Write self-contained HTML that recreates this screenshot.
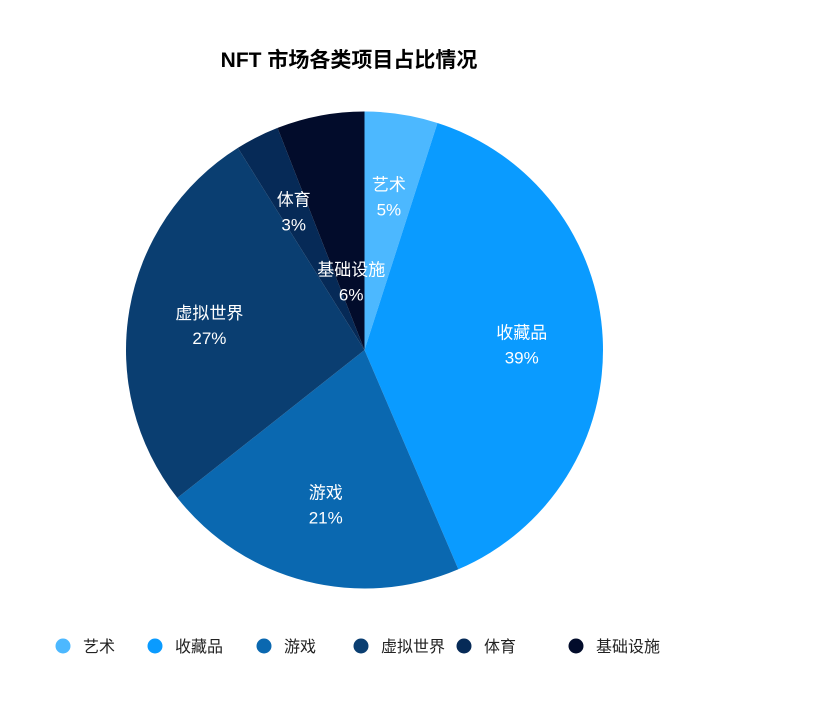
<!DOCTYPE html>
<html><head><meta charset="utf-8"><style>
body{margin:0;background:#fff;width:821px;height:715px;overflow:hidden;font-family:"Liberation Sans","Noto Sans CJK SC",sans-serif}
</style></head><body>
<svg id="c" width="821" height="715">
<text x="349" y="67" text-anchor="middle" font-size="21" font-weight="bold" fill="#000" font-family="Liberation Sans, Noto Sans CJK SC, sans-serif">NFT 市场各类项目占比情况</text>
<g id="slices"></g><g id="labels"></g><g id="legend"></g>
</svg>
<script>
const categories=["艺术","收藏品","游戏","虚拟世界","体育","基础设施"];
const values=[5,39,21,27,3,6];
const colors=["#4cb8ff","#0a9bff","#0a68b0","#0a3e71","#062a57","#020c2b"];
const legendX=[63,155,264,361,464,576];
const ns="http://www.w3.org/2000/svg";
const cx=364.5,cy=350,r=238.5;
const total=values.reduce((a,b)=>a+b,0);
const sg=document.getElementById('slices'),lg=document.getElementById('labels'),leg=document.getElementById('legend');
function pt(a,rad){return [cx+rad*Math.sin(a),cy-rad*Math.cos(a)];}
let acc=0;
values.forEach((v,i)=>{
 const a0=acc/total*2*Math.PI;acc+=v;const a1=acc/total*2*Math.PI;
 const p0=pt(a0,r),p1=pt(a1,r);
 const path=document.createElementNS(ns,'path');
 path.setAttribute('d',`M${cx},${cy}L${p0[0]},${p0[1]}A${r},${r} 0 ${a1-a0>Math.PI?1:0} 1 ${p1[0]},${p1[1]}Z`);
 path.setAttribute('fill',colors[i]);
 
 
 sg.appendChild(path);
 const am=(a0+a1)/2;
 const lr=(i===5)?r*0.3:r*0.66;
 const lp=pt(am,lr);
 const t=document.createElementNS(ns,'text');
 t.setAttribute('x',lp[0]);t.setAttribute('y',lp[1]-4);
 t.setAttribute('text-anchor','middle');t.setAttribute('fill','#fff');t.setAttribute('font-size','17');
 t.textContent=categories[i];
 
 
 lg.appendChild(t);
 const t2=document.createElementNS(ns,'text');
 t2.setAttribute('x',lp[0]);t2.setAttribute('y',lp[1]+21);
 t2.setAttribute('text-anchor','middle');t2.setAttribute('fill','#fff');t2.setAttribute('font-size','17');
 t2.textContent=Math.round(v)+'%';
 
 
 lg.appendChild(t2);
 const c=document.createElementNS(ns,'circle');
 c.setAttribute('cx',legendX[i]);c.setAttribute('cy',646);c.setAttribute('r',7.5);c.setAttribute('fill',colors[i]);
 
 
 leg.appendChild(c);
 const lt=document.createElementNS(ns,'text');
 lt.setAttribute('x',legendX[i]+20);lt.setAttribute('y',652);lt.setAttribute('font-size','16');lt.setAttribute('fill','#222');
 lt.textContent=categories[i];
 
 
 leg.appendChild(lt);
});
</script>
</body></html>
